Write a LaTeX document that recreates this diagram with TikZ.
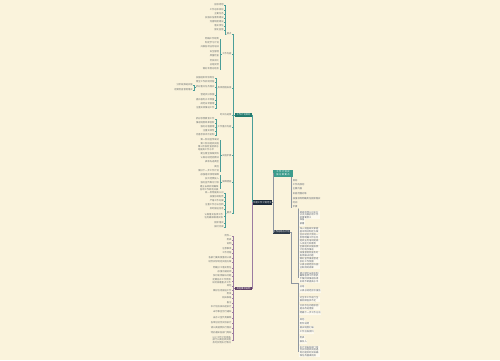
\documentclass[tikz,border=0pt]{standalone}
\usepackage{fontspec}
\setmainfont{Noto Sans CJK SC}
\XeTeXlinebreaklocale "zh"
\XeTeXlinebreakskip = 0pt plus 1pt
\definecolor{bg}{HTML}{FAF3DC}
\definecolor{tealline}{HTML}{4A9E98}
\definecolor{tealfill}{HTML}{217A6D}
\definecolor{tealfill2}{HTML}{3C9C8C}
\definecolor{navy}{HTML}{1C2A3A}
\definecolor{purplefill}{HTML}{5E3E63}
\definecolor{purpleline}{HTML}{9B7BA0}
\definecolor{grayline}{HTML}{8E96A0}
\definecolor{darkbox}{HTML}{2E3A48}
\definecolor{txt}{HTML}{6A7070}
\definecolor{txtr}{HTML}{5C6470}
\newcommand\mybox[2]{\parbox{#1pt}{\raggedright #2}}
\newcommand\leftgroup[3]{%
  \path (#1.west) ++(-1.5,0) coordinate (#1s) ++(-0.8,0) coordinate (#1k);
  \foreach \y/\t [count=\i] in {#3} {
    \node[lf, anchor=east] (#1c\i) at (#1k |- 0,\y) {\t};
    \draw[#2] (#1.west) -- (#1s) |- (#1c\i.east);
  }}
\newcommand\rightgroup[4]{%
  \path (#1) ++(1.2,0) coordinate (#1k);
  \foreach \y/\t [count=\i] in {#4} {
    \node[#3, anchor=west] (#1c\i) at (#1k |- 0,\y) {\t};
    \draw[#2] (#1) |- (#1c\i.west);
  }}
\begin{document}
\begin{tikzpicture}[x=1pt,y=-1pt,
  lf/.style={inner sep=0.3pt, font=\fontsize{2.3}{2.8}\selectfont, text=txt},
  rf/.style={inner sep=0.3pt, font=\fontsize{2.3}{2.8}\selectfont, text=txtr},
  rp/.style={rf, fill=white!55!bg, inner sep=0.5pt},
  tl/.style={draw=tealline, line width=0.35pt},
  pl/.style={draw=purpleline, line width=0.35pt},
  gl/.style={draw=grayline, line width=0.35pt},
  mainbox/.style={inner sep=0.3pt, font=\fontsize{2.3}{2.8}\selectfont, text=white, align=center}]
\fill[bg] (0,0) rectangle (500,360);
\useasboundingbox (0,0) rectangle (500,360);

% central and first-level nodes
\node[mainbox, fill=navy, minimum width=19pt, minimum height=5pt] (C) at (262.5,202.5) {年度工作计划范文};
\node[mainbox, fill=tealfill, minimum width=17pt, minimum height=3.8pt] (T) at (243.5,115) {工作计划目标};
\node[mainbox, fill=purplefill, minimum width=17pt, minimum height=3.6pt] (P) at (243.5,288.5) {其他事项说明};
\node[mainbox, fill=tealfill2, text width=18pt, minimum width=20pt, minimum height=7pt] (R1) at (283,173.5) {工作计划实施方案要点};
\node[mainbox, fill=darkbox, minimum width=17pt, minimum height=3.6pt] (R2) at (281.5,232) {工作总结与计划};

\draw[tl] (C.west) -- ++(-1,0) |- (T.east);
\draw[pl] (C.west) -- ++(-1,0) |- (P.east);
\draw[gl] (C.east) -- ++(0.5,0) |- (R1.west);
\draw[gl] (C.east) -- ++(0.5,0) |- (R2.west);

% second level on the upper left
\path (T.west) ++(-2,0) coordinate (TS) ++(-0.8,0) coordinate (TK);
\foreach \n/\y/\t in {L1/34/要点, L2/54/工作内容, L3/88/具体措施安排, L4/115/时间与进度, L5/127/工作重点内容, L6/155.5/实施步骤, L7/182/保障措施, L8/213/要求} {
  \node[lf, anchor=east] (\n) at (TK |- 0,\y) {\t};
  \draw[tl] (T.west) -- (TS) |- (\n.east);
}

\leftgroup{L1}{tl}{5/指导思想, 10/工作总体目标, 14/主要任务, 18/加强队伍素质建设, 22/完善制度建设, 26/落实责任, 30/强化监督}
\leftgroup{L2}{tl}{39/明确工作职责, 43/制定学习计划, 47/开展各项业务培训, 52/安全管理, 56/质量检查, 61/考核评比, 65/总结反馈, 69/做好年度总结会}
\leftgroup{L3}{tl}{78/加强组织领导到位, 82/健全工作机制流程, 87/抓好重点任务落实, 95/营造良好氛围, 100/提升服务水平质量, 104/规范日常管理, 108/注重实效推进工作}
\leftgroup{L3c3}{tl}{85/分阶段推进实施, 90/定期检查督促落实}
\leftgroup{L5}{tl}{119/抓好思想教育工作, 123/推进制度改革创新, 127/强化过程管理, 131/注重实效性, 135/完善考核评价机制}
\leftgroup{L6}{tl}{140/第一阶段宣传发动, 144/第二阶段组织实施, 148.5/{\mybox{21}{第三阶段检查验收总结提高工作水平}}, 153.5/建立健全档案资料, 158/认真总结经验教训, 162/表彰先进典型, 167/其他, 171/做好下一步工作计划}
\leftgroup{L7}{tl}{175/加强组织领导保障, 178.5/加大经费投入, 183/强化宣传舆论引导, 188.5/{\mybox{19}{建立长效机制确保各项工作顺利开展}}}
\leftgroup{L8}{tl}{193/统一思想提高认识, 197/加强协调配合, 201/严格工作纪律, 205/注重工作方法创新, 209/及时报送信息, 216.5/{\mybox{19}{认真落实各项工作任务确保取得实效}}, 223/狠抓落实, 227/按时完成}

% lower left (purple)
\path (P.west) ++(-2,0) coordinate (PS) ++(-0.8,0) coordinate (PK);
\foreach \y/\t [count=\i] in {236/附件一, 240/附表, 244/说明, 249/注意事项, 253/工作流程, 258/各部门要高度重视认真, 262/结合实际制定实施方案, 268/明确分工落实责任, 272/加强沟通协调, 276/及时发现解决问题, 281/{\mybox{19}{定期召开工作例会研究部署重点工作}}, 286/其他, 290.5/做好信息报送工作, 294/附录, 298/相关表格, 303/备注, 307/本计划自发布起执行, 312/未尽事宜另行通知, 318/由办公室负责解释, 323/各单位结合实际执行, 328/请认真遵照执行落实, 333/特此通知各部门周知, 340/{\mybox{19}{以上工作计划请各部门认真组织实施及时反馈执行情况}}} {
  \node[lf, anchor=east] (Pc\i) at (PK |- 0,\y) {\t};
  \draw[pl] (P.west) -- (PS) |- (Pc\i.east);
}

% right side
\coordinate (R1s) at ([xshift=-2pt]R1.south east);
\rightgroup{R1s}{gl}{rf}{181/目标, 185/工作的原则, 189/主要内容, 193.5/实施范围对象, 198.5/加强领导明确责任狠抓落实, 203/时间, 207/步骤}
\coordinate (Qs) at (R1sc7.south east);
\rightgroup{Qs}{gl}{rp}{215/{\mybox{20}{提高思想认识充分认识开展此项工作的重要意义}}, 220/准备, 224/部署, 230.5/{\mybox{20}{深入调查研究掌握基本情况制定方案}}, 236.5/{\mybox{20}{召开动员大会统一思想明确工作任务}}, 242.5/{\mybox{20}{组织业务培训提高人员能力和素质}}, 248.5/{\mybox{20}{全面组织实施按照计划有序推进}}, 254.5/{\mybox{20}{加强督促检查及时发现解决问题}}, 260.5/{\mybox{20}{做好宣传报道营造良好工作氛围}}, 266.5/{\mybox{20}{认真总结经验巩固已取得的成果}}, 277.5/{\mybox{20}{建立健全长效机制确保各项工作常抓不懈持续推进取得实效不断提高水平}}}

\coordinate (R2a) at ([xshift=1pt]R2.east);
\coordinate (R2b) at (R2a |- 0,283);
\coordinate (R2c) at (Qs |- R2b);
\draw[gl] (R2.east) -- (R2a) -- (R2b) -- (R2c);
\rightgroup{R2c}{gl}{rp}{287/总结, 291/认真总结经验写报告, 299.5/{\mybox{20}{对全年工作进行全面回顾查找不足}}, 307.5/{\mybox{20}{分析存在问题原因提出改进措施}}, 313/明确下一步工作方向, 320/其他, 323.5/附件说明, 327.5/相关制度汇编, 332/工作台账资料, 338/附表, 342/联系人, 351.5/{\mybox{20}{本计划由各部门结合实际组织实施遇到问题及时反映确保任务圆满完成}}}
\end{tikzpicture}
\end{document}
